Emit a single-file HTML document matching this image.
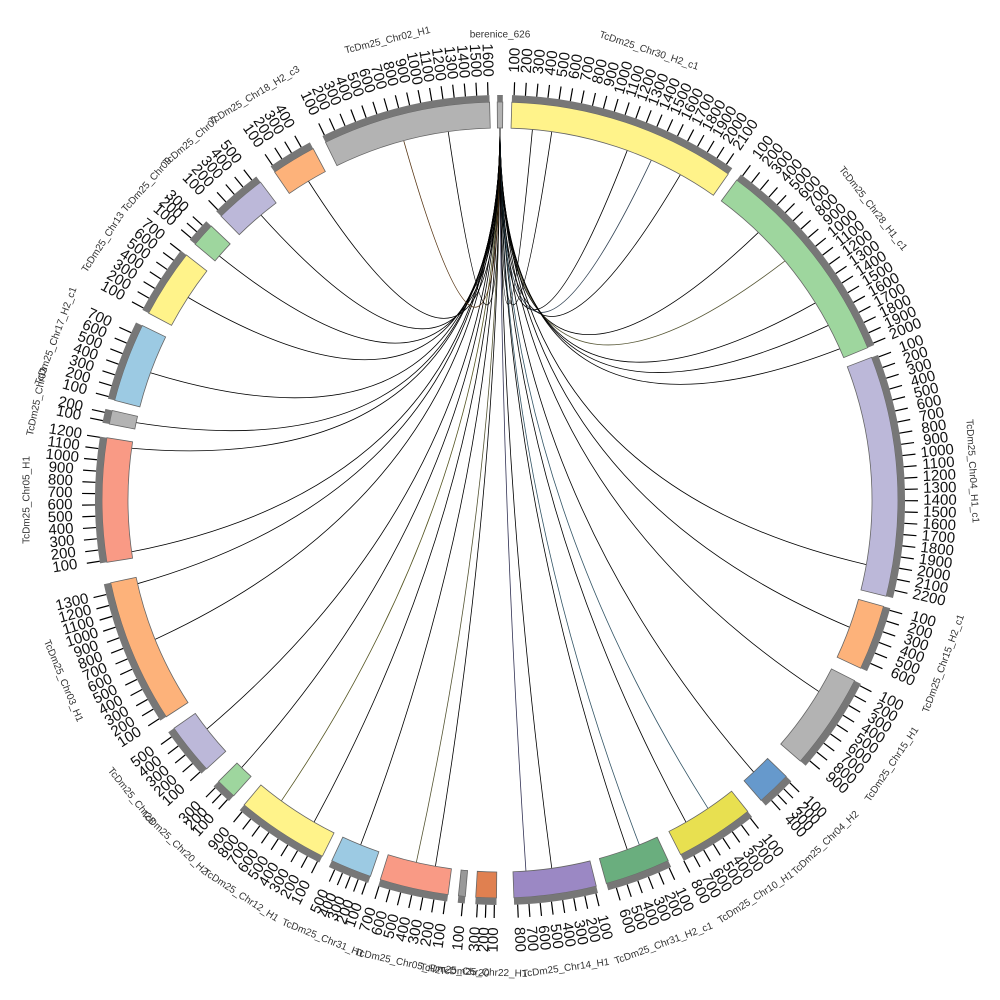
<!DOCTYPE html>
<html><head><meta charset="utf-8"><style>
html,body{margin:0;padding:0;background:#fff;width:1000px;height:1000px;overflow:hidden}
svg{display:block}
text{font-family:"Liberation Sans",sans-serif}
</style></head><body>
<svg id="s" width="1000" height="1000" viewBox="0 0 1000 1000" xmlns="http://www.w3.org/2000/svg"></svg>
<script>
const S=document.getElementById('s');const cx=500,cy=500;
const segs=[
[-0.4,0.4,'#b3b3b3','berenice_626'],
[1.7,35,'#fff38a','TcDm25_Chr30_H2_c1'],
[36.5,67.5,'#9ed69e','TcDm25_Chr28_H1_c1'],
[69,104,'#bcb8d9','TcDm25_Chr04_H1_c1'],
[105.5,115,'#fdb27a','TcDm25_Chr15_H2_c1'],
[117,131,'#b3b3b3','TcDm25_Chr15_H1'],
[134,139,'#6699cc','TcDm25_Chr04_H2'],
[141.5,153,'#e8e050','TcDm25_Chr10_H1'],
[155,164.5,'#6aae7e','TcDm25_Chr31_H2_c1'],
[166,178,'#9b88c4','TcDm25_Chr14_H1'],
[180.5,183.5,'#e08050','TcDm25_Chr22_H1'],
[185,186,'#999999','TcDm25_Chr20'],
[187.5,197.5,'#f99a85','TcDm25_Chr05_H2'],
[199,205,'#9ccae3','TcDm25_Chr31_H1'],
[206.5,220,'#fff38a','TcDm25_Chr12_H1'],
[222,225,'#9ed69e','TcDm25_Chr20_H2'],
[227.5,235,'#bcb8d9','TcDm25_Chr28'],
[237,258,'#fdb27a','TcDm25_Chr03_H1'],
[261,279,'#f99a85','TcDm25_Chr05_H1'],
[281,283,'#b3b3b3','TcDm25_Chr03'],
[284.5,296,'#9ccae3','TcDm25_Chr17_H2_c1'],
[298,308,'#fff38a','TcDm25_Chr13'],
[310,313.5,'#9ed69e','TcDm25_Chr09'],
[315.5,323,'#bcb8d9','TcDm25_Chr07'],
[325.5,332,'#fdb27a','TcDm25_Chr18_H2_c3'],
[334,358.5,'#b3b3b3','TcDm25_Chr02_H1']];
function P(a,r){const t=(a-90)*Math.PI/180;return [cx+r*Math.cos(t),cy+r*Math.sin(t)];}
function arc(a1,a2,r1,r2){const p1=P(a1,r2),p2=P(a2,r2),p3=P(a2,r1),p4=P(a1,r1);const l=(a2-a1)>180?1:0;
return `M${p1} A${r2},${r2} 0 ${l} 1 ${p2} L${p3} A${r1},${r1} 0 ${l} 0 ${p4}Z`;}
let h='';
// links
const tg=[[20,'#000'],[24,'#345'],[29,'#000'],[44,'#000'],[50,'#553'],[58,'#000'],[62,'#000'],[66,'#000'],[100,'#000'],[110,'#000'],[121,'#000'],[137,'#000'],[146,'#356'],[150,'#000'],[158,'#356'],[160,'#000'],[172,'#000'],[176,'#335'],[190,'#000'],[193,'#553'],[202,'#000'],[210,'#000'],[216,'#552'],[224,'#000'],[232,'#000'],[248,'#000'],[257,'#000'],[262,'#000'],[278,'#000'],[282,'#000'],[290,'#000'],[303,'#000'],[311,'#000'],[320,'#000'],[329,'#000'],[345,'#531'],[352,'#000'],[5,'#000'],[8,'#000']];
tg.forEach(([a,c])=>{const s=P(0,372),e=P(a,372);const cp=[500,480];
h+=`<path d="M${s} Q${cp} ${e}" fill="none" stroke="${c}" stroke-width="0.8"/>`;});
segs.forEach(([a1,a2,c,n],i)=>{
h+=`<path d="${arc(a1,a2,372,398)}" fill="${c}" stroke="#666" stroke-width="0.8"/>`;
h+=`<path d="${arc(a1,a2,398,405)}" fill="#777"/>`;
if(i>0){const st=(a2-a1)>6?1.6:1.2;
for(let a=a1+0.3;a<=a2;a+=st){const p=P(a,405),q=P(a,418);h+=`<line x1="${p[0]}" y1="${p[1]}" x2="${q[0]}" y2="${q[1]}" stroke="#000" stroke-width="1.2"/>`;
const r=P(a,440);let rot=a-90;let anc='middle';if(a>180){rot+=180;}
h+=`<text x="${r[0]}" y="${r[1]}" font-size="15" text-anchor="middle" dominant-baseline="middle" transform="rotate(${rot} ${r[0]} ${r[1]})" fill="#111">${Math.round((a-a1)/st+1)}00</text>`;}}
const m=(a1+a2)/2;const rr=i==0?465:473;const p=P(m,rr);let rot=m;if(m>90&&m<270)rot+=180;
h+=`<text x="${p[0]}" y="${p[1]}" font-size="10" text-anchor="middle" dominant-baseline="middle" transform="rotate(${rot} ${p[0]} ${p[1]})" fill="#333">${n}</text>`;
});
S.innerHTML=h;
</script>
</body></html>
